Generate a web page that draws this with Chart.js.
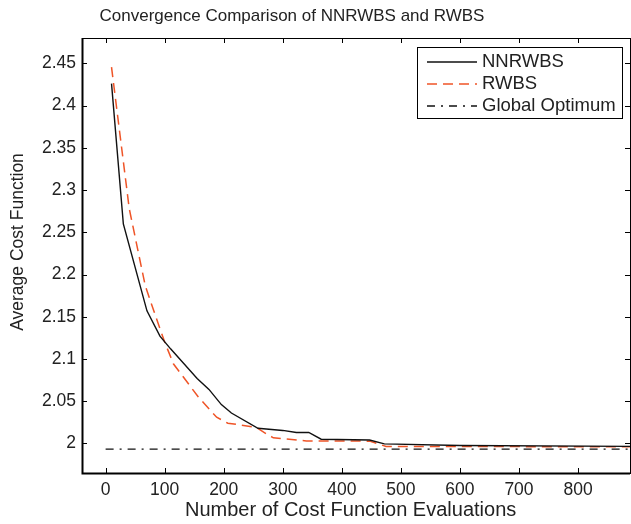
<!DOCTYPE html>
<html>
<head>
<meta charset="utf-8">
<script src="https://cdn.jsdelivr.net/npm/chart.js@4"></script>
<style>
  body { margin: 0; background: #fff; }
  #wrap { width: 631px; height: 524px; }
</style>
</head>
<body>
<div id="wrap"><canvas id="myChart"></canvas></div>
<script>
// data
const nnEvals = [10, 30, 70, 92, 110, 155, 175, 196, 213, 258, 300, 323, 344, 365, 447, 472, 600, 888];
const nnCost  = [2.426, 2.260, 2.157, 2.127, 2.112, 2.077, 2.064, 2.046, 2.036, 2.018, 2.0154, 2.013, 2.013, 2.005, 2.004, 1.9995, 1.9975, 1.9965];

const rwEvals = [10, 40, 67, 84, 100, 115, 157, 188, 207, 255, 272, 284, 340, 447, 475, 888];
const rwCost  = [2.4455, 2.278, 2.187, 2.152, 2.12, 2.094, 2.055, 2.031, 2.024, 2.019, 2.0115, 2.0067, 2.003, 2.0027, 1.9965, 1.996];

const optEvals = [0, 888];
const optCost  = [1.9933, 1.9933];

const xTicks = [0, 100, 200, 300, 400, 500, 600, 700, 800];
const yTicks = [2, 2.05, 2.1, 2.15, 2.2, 2.25, 2.3, 2.35, 2.4, 2.45];
const yTickLabels = ["2", "2.05", "2.1", "2.15", "2.2", "2.25", "2.3", "2.35", "2.4", "2.45"];

const seriesNames = ["NNRWBS", "RWBS", "Global Optimum"];

const FONT = "Liberation Sans, Arial, Helvetica, sans-serif";
const RED = "#ef5427";

function pts(xs, ys) { return xs.map((x, i) => ({ x: x, y: ys[i] })); }

// MATLAB style frame, ticks, labels and legend
const matlabFrame = {
  id: "matlabFrame",
  afterDraw(chart) {
    const ctx = chart.ctx;
    const a = chart.chartArea;
    const xs = chart.scales.x, ys = chart.scales.y;
    ctx.save();
    ctx.strokeStyle = "#000";
    ctx.fillStyle = "#000";

    // ticks (inward, all four sides)
    ctx.lineWidth = 1;
    ctx.beginPath();
    xTicks.forEach(v => {
      const px = Math.round(xs.getPixelForValue(v)) + 0.5;
      ctx.moveTo(px, a.bottom); ctx.lineTo(px, a.bottom - 5);
      ctx.moveTo(px, a.top); ctx.lineTo(px, a.top + 5);
    });
    yTicks.forEach(v => {
      const py = Math.round(ys.getPixelForValue(v)) + 0.5;
      ctx.moveTo(a.left, py); ctx.lineTo(a.left + 5, py);
      ctx.moveTo(a.right, py); ctx.lineTo(a.right - 5, py);
    });
    ctx.stroke();

    // box
    ctx.lineWidth = 1;
    ctx.strokeRect(a.left + 0.5, a.top + 0.5, a.right - a.left, a.bottom - a.top);
    ctx.lineWidth = 2;
    ctx.beginPath();
    ctx.moveTo(a.left + 0.5, a.top);
    ctx.lineTo(a.left + 0.5, a.bottom + 0.5);
    ctx.lineTo(a.right, a.bottom + 0.5);
    ctx.stroke();

    // tick labels
    ctx.font = "17.5px " + FONT;
    ctx.fillStyle = "#222";
    ctx.textAlign = "center";
    ctx.textBaseline = "middle";
    xTicks.forEach(v => ctx.fillText(String(v), xs.getPixelForValue(v), 490));
    ctx.textAlign = "right";
    yTicks.forEach((v, i) => ctx.fillText(yTickLabels[i], 76, ys.getPixelForValue(v)));

    // titles
    ctx.textAlign = "center";
    ctx.font = "17px " + FONT;
    ctx.fillText("Convergence Comparison of NNRWBS and RWBS", 292, 16);
    ctx.font = "17.5px " + FONT;
    ctx.save();
    ctx.translate(18, 242);
    ctx.rotate(-Math.PI / 2);
    ctx.fillText("Average Cost Function", 0, 0);
    ctx.restore();
    ctx.font = "20px " + FONT;
    ctx.textAlign = "left";
    ctx.fillText("Number of Cost Function Evaluations", 185, 510);

    // legend
    const lx = 417, ly = 47, lw = 205, lh = 71;
    ctx.fillStyle = "#fff";
    ctx.fillRect(lx, ly, lw, lh);
    ctx.strokeStyle = "#000";
    ctx.lineWidth = 1;
    ctx.strokeRect(lx + 0.5, ly + 0.5, lw, lh);
    ctx.font = "18.5px " + FONT;
    const rows = [62, 84, 106];
    chart.data.datasets.forEach((ds, i) => {
      ctx.strokeStyle = ds.borderColor;
      ctx.lineWidth = ds.borderWidth;
      ctx.setLineDash(ds.borderDash || []);
      ctx.beginPath();
      ctx.moveTo(427, rows[i]);
      ctx.lineTo(477, rows[i]);
      ctx.stroke();
      ctx.setLineDash([]);
      ctx.fillStyle = "#222";
      ctx.textAlign = "left";
      ctx.fillText(ds.label, 482, rows[i]);
    });
    ctx.restore();
  }
};

new Chart(document.getElementById("myChart").getContext("2d"), {
  type: "scatter",
  data: {
    datasets: [
      {
        label: seriesNames[0],
        data: pts(nnEvals, nnCost),
        showLine: true,
        borderColor: "#111",
        borderWidth: 1.4,
        pointRadius: 0,
        tension: 0
      },
      {
        label: seriesNames[1],
        data: pts(rwEvals, rwCost),
        showLine: true,
        borderColor: RED,
        borderWidth: 1.5,
        borderDash: [10, 6],
        pointRadius: 0,
        tension: 0
      },
      {
        label: seriesNames[2],
        data: pts(optEvals, optCost),
        showLine: true,
        borderColor: "#111",
        borderWidth: 1.4,
        borderDash: [8, 6, 2, 6],
        pointRadius: 0,
        tension: 0
      }
    ]
  },
  options: {
    responsive: true,
    maintainAspectRatio: false,
    animation: false,
    layout: { padding: { left: 82, top: 38, right: 1, bottom: 51 } },
    plugins: {
      legend: { display: false },
      tooltip: { enabled: false }
    },
    scales: {
      x: { type: "linear", min: -40, max: 888, display: false },
      y: { type: "linear", min: 1.965, max: 2.48, display: false }
    }
  },
  plugins: [matlabFrame]
});
</script>
</body>
</html>
